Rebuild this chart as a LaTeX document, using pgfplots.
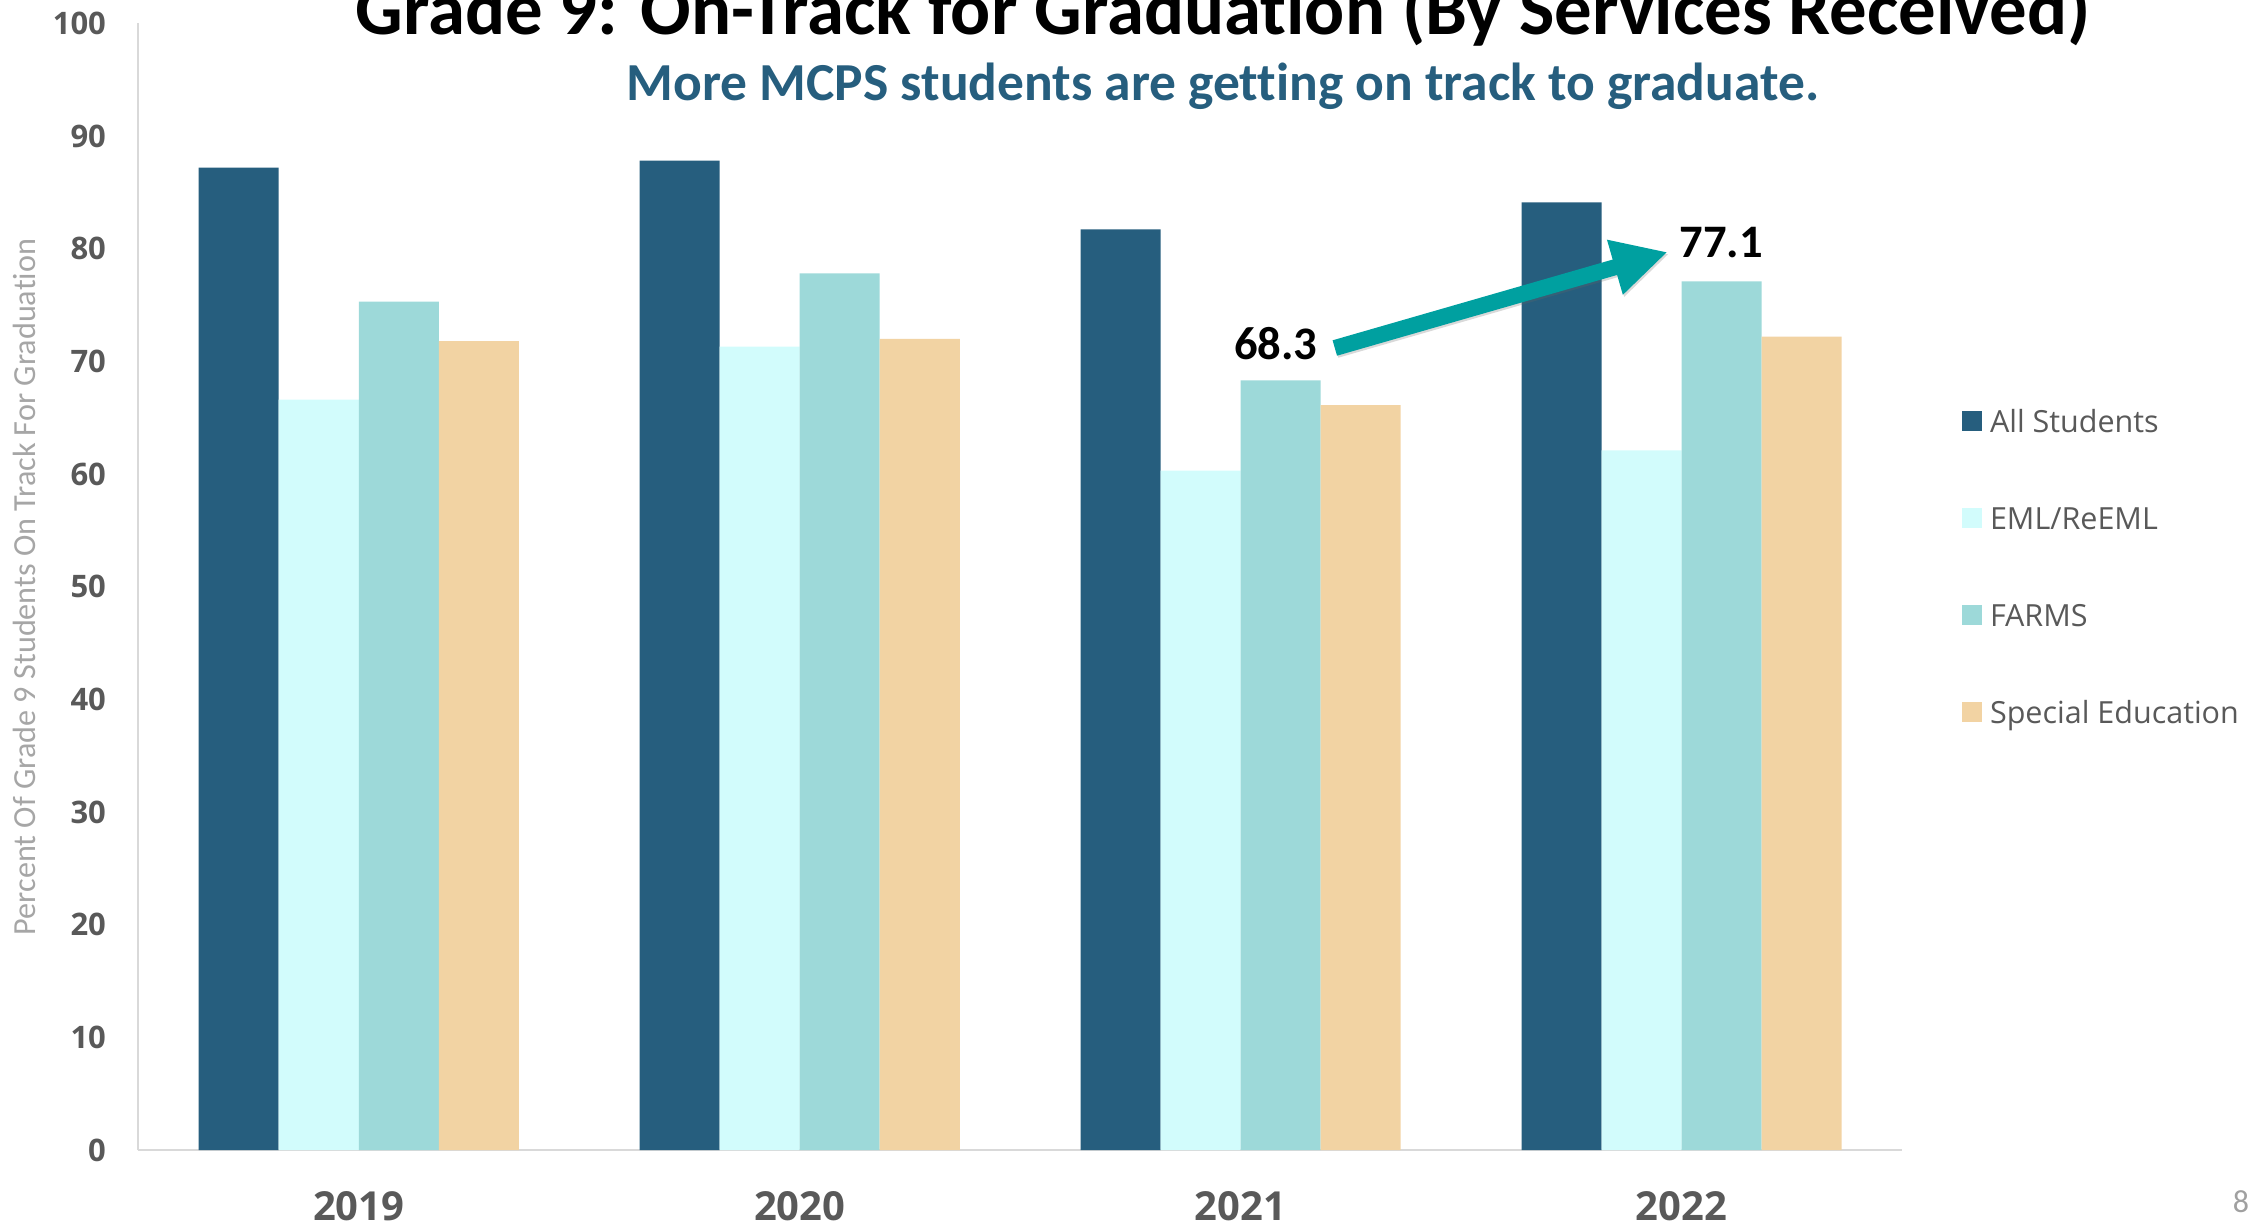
\documentclass[border=0pt]{standalone}
\usepackage{fontspec}
\setmainfont{Carlito}[Ligatures=NoCommon]
\newfontfamily\opensans{Open Sans}
\usepackage{pgfplots}
\pgfplotsset{compat=1.18}
\usetikzlibrary{arrows.meta}
\definecolor{allc}{HTML}{265E7E}
\definecolor{emlc}{HTML}{D2FCFC}
\definecolor{farmc}{HTML}{9DD9D9}
\definecolor{spedc}{HTML}{F2D3A3}
\definecolor{arrowc}{HTML}{00A0A0}
\definecolor{tickc}{HTML}{595959}
\definecolor{ylabc}{HTML}{A6A6A6}
\definecolor{linec}{HTML}{D9D9D9}
\definecolor{pagec}{HTML}{A0A0A0}
\pgfplotsset{sqlegend/.style={legend image code/.code={\fill[##1,draw=none] (0pt,-5.45pt) rectangle (10pt,4.55pt);}}}
\begin{document}
\begin{tikzpicture}
\path[use as bounding box] (0,0) rectangle (1131pt,610.5pt);
\clip (0,0) rectangle (1131pt,610.5pt);
\begin{axis}[
  at={(69.15pt,35.5pt)}, anchor=south west,
  scale only axis, width=881.85pt, height=563.35pt,
  xmin=-0.5, xmax=3.5, ymin=0, ymax=100,
  ybar=0pt, bar width=0.1815,
  xtick={0,1,2,3}, xticklabels={2019,2020,2021,2022},
  ytick={0,10,...,100},
  axis x line*=bottom, axis y line*=left,
  x axis line style={-, draw=linec, line width=1.2pt},
  y axis line style={-, draw=linec, line width=1pt},
  major tick length=0pt, tick style={draw=none},
  /pgf/number format/assume math mode=true,
  yticklabel style={font=\opensans\bfseries\fontsize{15.5pt}{16pt}\selectfont, text=tickc, inner sep=0pt, anchor=east, xshift=-16pt},
  xticklabel style={font=\opensans\bfseries\fontsize{20pt}{22pt}\selectfont, text=tickc, inner sep=0pt, anchor=base, yshift=-35pt},
  clip=false,
  legend cell align=left,
  legend style={at={(axis description cs:1.03402,0.6668)}, anchor=north west,
    draw=none, fill=none, inner sep=0pt, outer sep=0pt,
    row sep=27.1pt, column sep=4pt,
    font=\opensans\fontsize{15.25pt}{16pt}\selectfont, text=tickc,
    nodes={inner sep=0pt, text height=16.8pt, text depth=4.6pt}},
]
\addplot[fill=allc, draw=none, bar shift=-0.27225, sqlegend] coordinates {(0,87.2) (1,87.8) (2,81.7) (3,84.1)};
\addplot[fill=emlc, draw=none, bar shift=-0.09075, sqlegend] coordinates {(0,66.6) (1,71.3) (2,60.3) (3,62.1)};
\addplot[fill=farmc, draw=none, bar shift=0.09075, sqlegend] coordinates {(0,75.3) (1,77.8) (2,68.3) (3,77.1)};
\addplot[fill=spedc, draw=none, bar shift=0.27225, sqlegend] coordinates {(0,71.8) (1,72.0) (2,66.1) (3,72.2)};
\legend{All Students, EML/ReEML, FARMS, Special Education}
\draw[line width=8pt, black!60, opacity=0.25, -{Triangle[length=27.5pt,width=26.5pt]}] (axis cs:2.2166,71.0) -- (axis cs:2.9717,79.52);
\draw[line width=8pt, arrowc, -{Triangle[length=27.5pt,width=26.5pt]}] (axis cs:2.2136,71.18) -- (axis cs:2.9687,79.70);
\node[font=\bfseries\fontsize{23.3pt}{24pt}\selectfont, inner sep=0pt] at (axis cs:2.080,71.54) {68.3};
\node[font=\bfseries\fontsize{23.3pt}{24pt}\selectfont, inner sep=0pt] at (axis cs:3.090,80.54) {77.1};
\end{axis}
\node[font=\bfseries\fontsize{37.4pt}{40pt}\selectfont, anchor=base, inner sep=0pt] at (611.5pt,593pt) {Grade 9: On-Track for Graduation (By Services Received)};
\node[font=\bfseries\fontsize{26.75pt}{28pt}\selectfont, text=allc, anchor=base, inner sep=0pt] at (611.5pt,560pt) {More MCPS students are getting on track to graduate.};
\node[font=\fontsize{16.1pt}{17pt}\selectfont, text=ylabc, rotate=90, inner sep=0pt] at (12.25pt,317pt) {Percent Of Grade 9 Students On Track For Graduation};
\node[font=\fontsize{16pt}{17pt}\selectfont, text=pagec, inner sep=0pt] at (1120.5pt,9.5pt) {8};
\end{tikzpicture}
\end{document}
